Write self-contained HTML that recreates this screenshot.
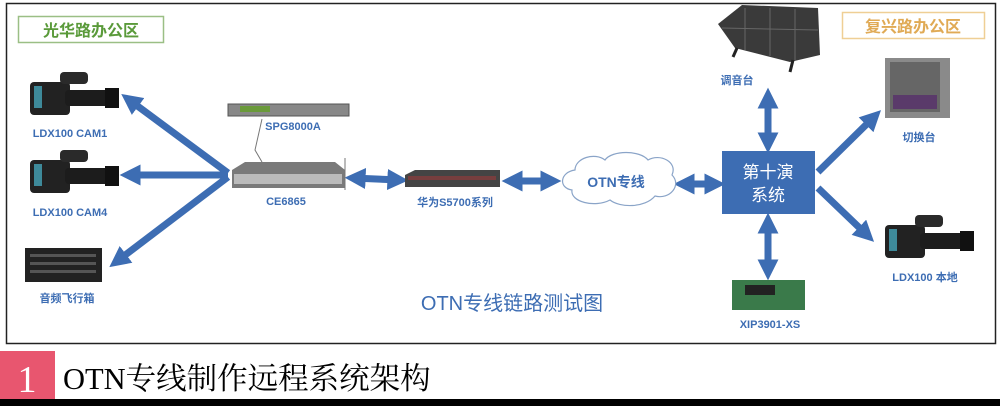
<!DOCTYPE html>
<html><head><meta charset="utf-8"><style>
body{margin:0;width:1000px;height:406px;background:#fff;overflow:hidden;font-family:"Liberation Sans","Noto Sans CJK SC",sans-serif}
svg{position:absolute;left:0;top:0}
</style></head><body>
<svg width="1000" height="406" viewBox="0 0 1000 406" xmlns="http://www.w3.org/2000/svg" font-family="Liberation Sans, Noto Sans CJK SC, sans-serif">
<defs>
<marker id="a" viewBox="0 0 10 10" refX="6" refY="5" markerWidth="3" markerHeight="3" orient="auto-start-reverse"><path d="M0,0L10,5L0,10z" fill="#3d6db3"/></marker>
<g id="cam"><rect x="5" y="10" width="40" height="33" rx="4" fill="#222"/><rect x="9" y="14" width="8" height="22" fill="#3e8a9a"/><rect x="40" y="18" width="50" height="16" rx="4" fill="#1c1c1c"/><rect x="35" y="0" width="28" height="12" rx="4" fill="#2a2a2a"/><rect x="80" y="16" width="14" height="20" fill="#111"/></g>
</defs>
<rect x="6.5" y="3.5" width="989" height="340" fill="#fff" stroke="#222" stroke-width="1.5"/>
<rect x="18.5" y="16.5" width="145" height="26" fill="none" stroke="#9bbf85" stroke-width="1.5"/>
<text x="91" y="36" font-size="16" fill="#5a9a3a" text-anchor="middle" font-weight="bold">光华路办公区</text>
<rect x="842.5" y="12.5" width="142" height="26" fill="none" stroke="#efcf95" stroke-width="1.5"/>
<text x="913" y="32" font-size="16" fill="#e0aa55" text-anchor="middle" font-weight="bold">复兴路办公区</text>
<g stroke="#3d6db3" stroke-width="7" fill="none" marker-start="url(#a)" marker-end="url(#a)">
<line x1="228" y1="173" x2="128" y2="99" marker-start="none"/>
<line x1="228" y1="175" x2="128" y2="175" marker-start="none"/>
<line x1="228" y1="177" x2="116" y2="262" marker-start="none"/>
<line x1="353" y1="178" x2="400" y2="180"/>
<line x1="510" y1="181" x2="553" y2="181"/>
<line x1="682" y1="184" x2="717" y2="184"/>
<line x1="768" y1="96" x2="768" y2="145"/>
<line x1="768" y1="221" x2="768" y2="272"/>
<line x1="818" y1="172" x2="875" y2="116" marker-start="none"/>
<line x1="818" y1="188" x2="868" y2="236" marker-start="none"/>
</g>
<use href="#cam" x="25" y="72"/>
<use href="#cam" x="25" y="150"/>
<use href="#cam" x="880" y="215"/>
<rect x="25" y="248" width="77" height="34" fill="#222"/>
<g fill="#555"><rect x="30" y="254" width="66" height="3"/><rect x="30" y="262" width="66" height="3"/><rect x="30" y="270" width="66" height="3"/></g>
<rect x="228" y="104" width="121" height="12" fill="#888" stroke="#555"/><rect x="240" y="106" width="30" height="6" fill="#6a9a3a"/>
<path d="M262 119 L255 150 L262 162" stroke="#777" fill="none"/>
<path d="M232 170 L245 162 L335 162 L345 170 L345 188 L232 188z" fill="#7a7a7a"/><rect x="234" y="174" width="108" height="10" fill="#bbb"/>
<line x1="345" y1="158" x2="345" y2="190" stroke="#777"/>
<path d="M405 175 L415 170 L500 170 L500 187 L405 187z" fill="#444"/><rect x="408" y="176" width="88" height="4" fill="#9a3a3a" opacity=".6"/>
<path d="M718 24 L742 5 L818 8 L820 55 L790 62 L735 48z" fill="#3a3a3a"/>
<g stroke="#666" stroke-width="1"><line x1="745" y1="8" x2="745" y2="50"/><line x1="770" y1="8" x2="770" y2="56"/><line x1="795" y1="9" x2="795" y2="60"/><line x1="722" y1="28" x2="818" y2="30"/></g>
<line x1="737" y1="48" x2="733" y2="57" stroke="#222" stroke-width="3"/><line x1="793" y1="60" x2="790" y2="72" stroke="#222" stroke-width="3"/>
<rect x="885" y="58" width="65" height="60" fill="#8a8a8a"/><rect x="890" y="62" width="50" height="50" fill="#666"/><rect x="893" y="95" width="44" height="14" fill="#5a3a6a"/>
<rect x="732" y="280" width="73" height="30" fill="#3a7a4a"/><rect x="745" y="285" width="30" height="10" fill="#222"/>
<path d="M575 170 C575 158 595 152 605 160 C612 150 640 150 648 160 C660 153 678 162 672 175 C682 185 670 200 655 196 C645 208 620 208 610 200 C595 208 570 202 572 190 C558 188 560 172 575 170z" fill="#fff" stroke="#8aa4c8" stroke-width="1.2"/>
<text x="616" y="187" font-size="14" fill="#3d6db3" text-anchor="middle" font-weight="bold">OTN专线</text>
<rect x="722" y="151" width="93" height="63" fill="#3d6db3"/>
<text x="768" y="178" font-size="17" fill="#fff" text-anchor="middle">第十演</text>
<text x="768" y="201" font-size="17" fill="#fff" text-anchor="middle">系统</text>
<g font-size="11" fill="#3d6db3" text-anchor="middle" font-weight="bold">
<text x="70" y="137">LDX100  CAM1</text>
<text x="70" y="216">LDX100  CAM4</text>
<text x="67" y="302">音频飞行箱</text>
<text x="293" y="130">SPG8000A</text>
<text x="286" y="205">CE6865</text>
<text x="455" y="206">华为S5700系列</text>
<text x="737" y="84">调音台</text>
<text x="919" y="141">切换台</text>
<text x="925" y="281">LDX100  本地</text>
<text x="770" y="328">XIP3901-XS</text>
</g>
<text x="512" y="310" font-size="20" fill="#3d6db3" text-anchor="middle">OTN专线链路测试图</text>
<rect x="0" y="351" width="55" height="49" fill="#e8566f"/>
<text x="27" y="392" font-size="38" fill="#fff" text-anchor="middle" font-family="Liberation Serif, serif">1</text>
<text x="63" y="389" font-size="30.5" fill="#000" font-family="Liberation Serif, Noto Serif CJK SC, serif">OTN专线制作远程系统架构</text>
<rect x="0" y="399" width="1000" height="7" fill="#000"/>
</svg>
</body></html>
